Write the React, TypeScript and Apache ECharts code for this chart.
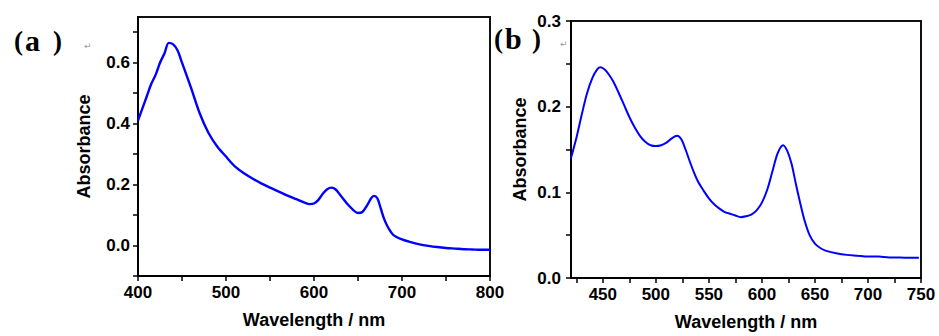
import React, { useEffect, useRef } from "react";
import * as echarts from "echarts";

// Panel (a)
const wlA = [400,405,410,415,420,425,430,435,440,445,450,460,470,480,490,500,505,510,520,530,540,550,560,570,580,590,595,600,605,610,615,620,625,630,640,650,655,660,665,668,672,676,680,685,690,700,710,720,730,740,750,760,770,780,790,800];
const absA = [0.41,0.45,0.49,0.53,0.56,0.6,0.63,0.665,0.66,0.64,0.6,0.52,0.435,0.37,0.325,0.292,0.275,0.26,0.238,0.22,0.204,0.19,0.177,0.164,0.152,0.14,0.136,0.138,0.15,0.17,0.185,0.19,0.183,0.165,0.13,0.107,0.11,0.13,0.155,0.163,0.155,0.12,0.085,0.055,0.035,0.02,0.011,0.004,-0.001,-0.005,-0.008,-0.01,-0.012,-0.013,-0.014,-0.014];
const xTicksA = [400,450,500,550,600,650,700,750,800];
const xLabelsA = [400,500,600,700,800];
const yTicksA = [-0.1,0,0.1,0.2,0.3,0.4,0.5,0.6,0.7];
const yLabelsA = [0,0.2,0.4,0.6];

// Panel (b)
const wlB = [420,425,430,435,440,445,448,452,456,460,465,470,475,480,485,490,495,500,505,510,515,520,524,528,532,536,540,545,550,555,560,565,570,575,580,585,590,595,600,605,610,615,620,624,628,632,636,640,645,650,655,660,670,680,690,700,710,720,730,740,748];
const absB = [0.14,0.163,0.19,0.215,0.233,0.244,0.246,0.243,0.237,0.229,0.216,0.202,0.188,0.176,0.166,0.159,0.155,0.154,0.155,0.158,0.163,0.166,0.162,0.15,0.136,0.123,0.112,0.102,0.093,0.086,0.081,0.077,0.075,0.073,0.071,0.072,0.074,0.079,0.088,0.103,0.125,0.146,0.155,0.148,0.133,0.11,0.088,0.068,0.05,0.04,0.035,0.032,0.029,0.027,0.026,0.025,0.025,0.024,0.024,0.0235,0.0235];
const xTicksB = [425,450,475,500,525,550,575,600,625,650,675,700,725,750];
const xLabelsB = [450,500,550,600,650,700,750];
const yTicksB = [0,0.05,0.1,0.15,0.2,0.25,0.3];
const yLabelsB = [0,0.1,0.2,0.3];

const FONT = "'Liberation Sans', Arial, sans-serif";
const lineCol = "#0000ff";

function axisCommon(tickVals: number[], labelVals: number[], fmt: (v: number) => string, margin: number) {
  return {
    axisLine: { show: true, onZero: false, lineStyle: { color: "#000", width: 2 } },
    axisTick: { show: true, inside: false, length: 5, lineStyle: { color: "#000", width: 1.5 }, customValues: tickVals },
    axisLabel: {
      show: true,
      customValues: labelVals,
      formatter: (v: number) => fmt(v),
      color: "#000",
      fontFamily: FONT,
      fontWeight: "bold",
      fontSize: 17,
      margin,
    },
    splitLine: { show: false },
    nameTextStyle: { color: "#000", fontFamily: FONT, fontWeight: "bold", fontSize: 18 },
    nameLocation: "middle",
  };
}

export default function App() {
  const ref = useRef<HTMLDivElement>(null);
  useEffect(() => {
    document.body.style.margin = "0";
    const chart = echarts.init(ref.current!, null, { renderer: "svg" });
    const gridStyle = { show: true, borderColor: "#111", borderWidth: 2, backgroundColor: "transparent" };
    const serif = "'Liberation Serif', serif";
    chart.setOption({
      animation: false,
      grid: [
        { left: 138, top: 17, width: 352, height: 259, ...gridStyle },
        { left: 571, top: 21, width: 350, height: 257, ...gridStyle },
      ],
      xAxis: [
        {
          type: "value", gridIndex: 0, min: 400, max: 800,
          name: "Wavelength / nm", nameGap: 35,
          ...axisCommon(xTicksA, xLabelsA, (v) => String(Math.round(v)), 8),
        },
        {
          type: "value", gridIndex: 1, min: 420, max: 750,
          name: "Wavelength / nm", nameGap: 35,
          ...axisCommon(xTicksB, xLabelsB, (v) => String(Math.round(v)), 8),
        },
      ],
      yAxis: [
        {
          type: "value", gridIndex: 0, min: -0.1, max: 0.75,
          name: "Absorbance", nameGap: 45,
          ...axisCommon(yTicksA, yLabelsA, (v) => v.toFixed(1), 8),
        },
        {
          type: "value", gridIndex: 1, min: 0, max: 0.3,
          name: "Absorbance", nameGap: 42,
          ...axisCommon(yTicksB, yLabelsB, (v) => v.toFixed(1), 10),
        },
      ],
      series: [
        {
          type: "line", xAxisIndex: 0, yAxisIndex: 0, showSymbol: false, smooth: 0.3,
          data: wlA.map((w, i) => [w, absA[i]]),
          lineStyle: { color: lineCol, width: 2.4 },
        },
        {
          type: "line", xAxisIndex: 1, yAxisIndex: 1, showSymbol: false, smooth: 0.3,
          data: wlB.map((w, i) => [w, absB[i]]),
          lineStyle: { color: lineCol, width: 2 },
        },
      ],
      graphic: [
        { type: "text", left: 14, top: 27, style: { text: "(", font: `bold 27px ${serif}`, fill: "#000" } },
        { type: "text", left: 25, top: 25, style: { text: "a", font: `bold 30px ${serif}`, fill: "#000" } },
        { type: "text", left: 53, top: 27, style: { text: ")", font: `bold 27px ${serif}`, fill: "#000" } },
        { type: "text", left: 84, top: 41, style: { text: "↵", font: `9px 'DejaVu Sans', sans-serif`, fill: "#999" } },
        { type: "text", left: 494, top: 25, style: { text: "(", font: `bold 27px ${serif}`, fill: "#000" } },
        { type: "text", left: 505, top: 23, style: { text: "b", font: `bold 30px ${serif}`, fill: "#000" } },
        { type: "text", left: 532, top: 25, style: { text: ")", font: `bold 27px ${serif}`, fill: "#000" } },
        { type: "text", left: 560, top: 39, style: { text: "↵", font: `9px 'DejaVu Sans', sans-serif`, fill: "#999" } },
      ],
    });
    return () => chart.dispose();
  }, []);
  return <div ref={ref} style={{ width: 939, height: 336 }} />;
}
